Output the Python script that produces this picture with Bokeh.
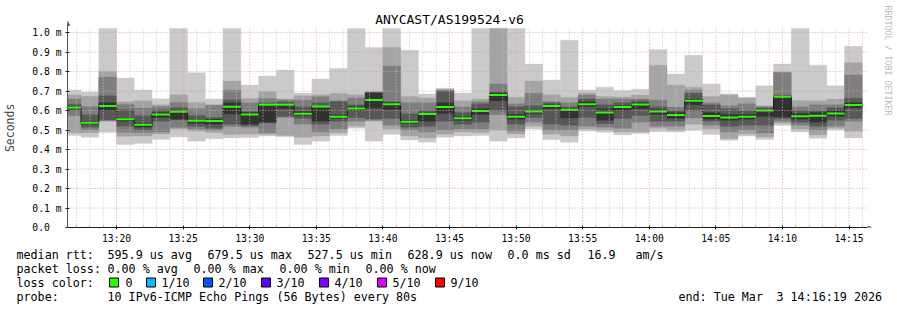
import math
from bokeh.plotting import figure
from bokeh.models import Range1d, FixedTicker, Label
from bokeh.layouts import column
from bokeh.embed import file_html
from bokeh.resources import INLINE

# ---------------- data ----------------
title_text = "ANYCAST/AS199524-v6"
window_start = "13:16:19"
window_end = "14:16:19"
step_seconds = 80
first_bar_end = "13:17:20"
n_bars = 45

# sorted ping round-trip times per 80 s step (milliseconds), ping1 = fastest ... ping10 = slowest
ping1 = [0.472, 0.463, 0.487, 0.426, 0.431, 0.452, 0.465, 0.443, 0.455, 0.460, 0.462, 0.469, 0.466, 0.426, 0.443,
         0.472, 0.510, 0.443, 0.477, 0.449, 0.438, 0.463, 0.470, 0.472, 0.443, 0.460, 0.505, 0.451, 0.438, 0.495,
         0.489, 0.475, 0.482, 0.492, 0.490, 0.499, 0.477, 0.448, 0.469, 0.452, 0.523, 0.490, 0.458, 0.500, 0.460]
ping2 = [0.486, 0.485, 0.545, 0.468, 0.469, 0.480, 0.505, 0.494, 0.488, 0.477, 0.480, 0.478, 0.472, 0.463, 0.470,
         0.486, 0.520, 0.545, 0.505, 0.470, 0.460, 0.478, 0.490, 0.488, 0.500, 0.480, 0.520, 0.478, 0.470, 0.505,
         0.500, 0.490, 0.490, 0.510, 0.500, 0.530, 0.505, 0.455, 0.480, 0.465, 0.535, 0.505, 0.475, 0.510, 0.494]
ping3 = [0.573, 0.500, 0.548, 0.489, 0.486, 0.490, 0.513, 0.505, 0.500, 0.519, 0.515, 0.486, 0.565, 0.530, 0.490,
         0.505, 0.545, 0.550, 0.525, 0.500, 0.490, 0.500, 0.505, 0.505, 0.579, 0.495, 0.540, 0.500, 0.500, 0.520,
         0.515, 0.510, 0.540, 0.520, 0.520, 0.562, 0.525, 0.490, 0.500, 0.485, 0.545, 0.525, 0.500, 0.520, 0.545]
ping4 = [0.600, 0.515, 0.552, 0.520, 0.500, 0.545, 0.553, 0.520, 0.510, 0.530, 0.522, 0.537, 0.570, 0.560, 0.530,
         0.545, 0.565, 0.557, 0.560, 0.515, 0.520, 0.545, 0.530, 0.540, 0.600, 0.530, 0.565, 0.530, 0.525, 0.565,
         0.533, 0.560, 0.575, 0.545, 0.545, 0.600, 0.545, 0.520, 0.525, 0.525, 0.560, 0.540, 0.520, 0.550, 0.560]
ping5 = [0.610, 0.530, 0.600, 0.545, 0.515, 0.565, 0.555, 0.535, 0.530, 0.582, 0.530, 0.540, 0.610, 0.575, 0.545,
         0.560, 0.600, 0.613, 0.605, 0.535, 0.545, 0.585, 0.550, 0.580, 0.650, 0.555, 0.585, 0.610, 0.562, 0.620,
         0.550, 0.600, 0.610, 0.580, 0.560, 0.630, 0.555, 0.550, 0.555, 0.570, 0.567, 0.555, 0.540, 0.570, 0.615]
ping6 = [0.622, 0.545, 0.640, 0.560, 0.535, 0.590, 0.600, 0.553, 0.555, 0.640, 0.590, 0.630, 0.630, 0.595, 0.620,
         0.578, 0.620, 0.690, 0.640, 0.550, 0.588, 0.640, 0.568, 0.610, 0.690, 0.580, 0.600, 0.630, 0.610, 0.645,
         0.610, 0.625, 0.640, 0.605, 0.590, 0.660, 0.590, 0.580, 0.580, 0.605, 0.672, 0.585, 0.590, 0.600, 0.640]
ping7 = [0.633, 0.579, 0.676, 0.605, 0.574, 0.604, 0.615, 0.575, 0.565, 0.655, 0.596, 0.640, 0.645, 0.620, 0.640,
         0.647, 0.630, 0.693, 0.645, 0.584, 0.600, 0.700, 0.590, 0.635, 0.698, 0.620, 0.625, 0.640, 0.620, 0.660,
         0.630, 0.640, 0.650, 0.620, 0.600, 0.689, 0.630, 0.610, 0.600, 0.615, 0.680, 0.600, 0.600, 0.615, 0.664]
ping8 = [0.660, 0.621, 0.772, 0.633, 0.613, 0.621, 0.642, 0.610, 0.628, 0.706, 0.640, 0.662, 0.655, 0.655, 0.671,
         0.650, 0.665, 0.695, 0.829, 0.640, 0.640, 0.705, 0.620, 0.645, 0.737, 0.635, 0.689, 0.645, 0.640, 0.680,
         0.660, 0.660, 0.660, 0.655, 0.618, 0.705, 0.640, 0.625, 0.635, 0.620, 0.795, 0.620, 0.630, 0.630, 0.783]
ping9 = [0.681, 0.674, 0.801, 0.645, 0.650, 0.630, 0.681, 0.642, 0.630, 0.752, 0.662, 0.698, 0.660, 0.676, 0.681,
         0.689, 0.681, 0.698, 0.924, 0.672, 0.665, 0.710, 0.650, 0.659, 1.050, 0.669, 0.752, 0.681, 0.667, 0.690,
         0.672, 0.670, 0.680, 0.833, 0.732, 0.720, 0.672, 0.680, 0.665, 0.625, 0.799, 0.652, 0.650, 0.659, 0.845]
ping10 = [0.706, 0.696, 1.050, 0.767, 0.706, 0.661, 1.050, 0.794, 0.660, 1.050, 0.732, 0.778, 0.808, 0.690, 0.762,
          0.816, 1.050, 0.924, 1.050, 0.910, 0.685, 0.715, 0.690, 1.050, 1.050, 1.050, 0.839, 0.757, 0.961, 0.706,
          0.720, 0.703, 0.710, 0.913, 0.788, 0.884, 0.737, 0.686, 0.669, 0.727, 0.839, 1.050, 0.833, 0.727, 0.930]
median_rtt = [0.616, 0.538, 0.624, 0.555, 0.5275, 0.580, 0.594, 0.548, 0.547, 0.620, 0.580, 0.630, 0.630, 0.584, 0.621,
              0.569, 0.611, 0.655, 0.633, 0.543, 0.582, 0.618, 0.561, 0.598, 0.6795, 0.568, 0.595, 0.624, 0.604, 0.632,
              0.590, 0.618, 0.631, 0.595, 0.577, 0.650, 0.572, 0.565, 0.568, 0.601, 0.671, 0.571, 0.573, 0.585, 0.629]

x_tick_labels = ["13:20", "13:25", "13:30", "13:35", "13:40", "13:45", "13:50", "13:55", "14:00", "14:05", "14:10", "14:15"]
y_tick_values = [0.0, 0.1, 0.2, 0.3, 0.4, 0.5, 0.6, 0.7, 0.8, 0.9, 1.0]
y_tick_labels = ["0.0\u00a0\u00a0", "0.1 m", "0.2 m", "0.3 m", "0.4 m", "0.5 m", "0.6 m", "0.7 m", "0.8 m", "0.9 m", "1.0 m"]
y_max = 1.022   # upper limit of the graph (values above are cut off)

loss_colors = ["#26ff00", "#00b8ff", "#0059ff", "#5e00ff", "#7e00ff", "#dd00ff", "#ff0000"]
loss_labels = ["0", "1/10", "2/10", "3/10", "4/10", "5/10", "9/10"]

smoke_shades = ["#cacaca", "#a4a4a4", "#7e7e7e", "#585858", "#323232"]

# ---------------- helpers ----------------
def to_min(s):
    h, m, sec = (int(v) for v in s.split(":"))
    return h * 60 + m + sec / 60.0

x0, x1 = to_min(window_start), to_min(window_end)
bar_end = [to_min(first_bar_end) + i * step_seconds / 60.0 for i in range(n_bars)]
bar_start = [e - step_seconds / 60.0 for e in bar_end]

FONT = "DejaVu Sans Mono"
W, H_TOP = 897, 246
GRAPH_L, GRAPH_W, GRAPH_T, GRAPH_H = 66, 800, 28, 200   # rrd graph area in page pixels
FRAME_L, FRAME_T, FRAME_B = GRAPH_L, 0, GRAPH_T + GRAPH_H
px_x = (x1 - x0) / GRAPH_W      # minutes per pixel
px_y = y_max / GRAPH_H          # ms per pixel

def page_x(px):                  # page pixel column -> data x
    return x0 + (px - GRAPH_L) * px_x

def page_y(py):                  # page pixel row -> data y
    return (FRAME_B - py) * px_y

p = figure(width=W, height=H_TOP,
           x_range=Range1d(x0, page_x(W)), y_range=Range1d(0, page_y(FRAME_T)),
           output_backend="svg", toolbar_location=None, title=None,
           min_border_left=FRAME_L, min_border_right=0, min_border_top=0, min_border_bottom=H_TOP - FRAME_B)
p.background_fill_color = "white"
p.border_fill_color = "white"
p.outline_line_color = None
p.grid.visible = False

# smoke (cut at the graph's upper limit like rrdtool does)
pings = [ping1, ping2, ping3, ping4, ping5, ping6, ping7, ping8, ping9, ping10]
for i in range(5):
    p.quad(left=bar_start, right=bar_end, bottom=pings[i], top=[min(v, y_max) for v in pings[9 - i]],
           fill_color=smoke_shades[i], line_color=smoke_shades[i], line_width=0.3)

# median line + loss-coloured median bar
p.step(x=bar_start + [bar_end[-1]], y=median_rtt + [median_rtt[-1]], mode="after",
       line_color="#202020", line_width=1)
sw = y_max / 200.0
p.quad(left=bar_start, right=bar_end, bottom=[m - sw for m in median_rtt], top=[m + sw for m in median_rtt],
       fill_color=loss_colors[0], line_color=None)

# grid (drawn over the data, limited to the graph area)
major_x = [to_min(t + ":00") for t in x_tick_labels]
minor_x = [m for m in range(int(math.ceil(x0)), int(x1) + 1) if m not in major_x]
p.segment(x0=minor_x, x1=minor_x, y0=[0] * len(minor_x), y1=[y_max] * len(minor_x),
          line_color="#c4c4c4", line_dash="1 2", line_width=1)
p.segment(x0=major_x, x1=major_x, y0=[0] * len(major_x), y1=[y_max] * len(major_x),
          line_color="#e49a9a", line_dash="1 2", line_width=1)
hy = y_tick_values[1:]
p.segment(x0=[x0] * len(hy), x1=[page_x(GRAPH_L + GRAPH_W + 2)] * len(hy), y0=hy, y1=hy,
          line_color="#e49a9a", line_dash="1 2", line_width=1)

# axes
p.xaxis.ticker = FixedTicker(ticks=major_x, minor_ticks=minor_x)
p.xaxis.major_label_overrides = {int(v): lab for v, lab in zip(major_x, x_tick_labels)}
p.xaxis.bounds = (x0, page_x(GRAPH_L + GRAPH_W + 1))
p.yaxis.ticker = FixedTicker(ticks=y_tick_values)
p.yaxis.major_label_overrides = {v: lab for v, lab in zip(y_tick_values, y_tick_labels)}
p.yaxis.bounds = (0, page_y(24))

for ax in (p.xaxis, p.yaxis):
    ax.major_label_text_font = FONT
    ax.major_label_text_font_size = "9.7px"
    ax.major_label_text_color = "black"
    ax.major_tick_in = 2
    ax.major_tick_out = 2
    ax.major_tick_line_color = "#1f1f1f"
p.xaxis.axis_line_color = "#1f1f1f"
p.yaxis.axis_line_color = "#555555"
p.xaxis.minor_tick_in = 2
p.xaxis.minor_tick_out = 0
p.xaxis.minor_tick_line_color = "#d08080"
p.xaxis.major_label_standoff = 3
p.yaxis.major_label_standoff = 4
p.yaxis.minor_tick_line_color = None
# the label is centred on the whole frame; trailing no-break spaces move the word down onto the graph's centre
p.yaxis.axis_label = "Seconds" + "\u00a0" * 4
p.yaxis.axis_label_text_font = FONT
p.yaxis.axis_label_text_font_size = "11.5px"
p.yaxis.axis_label_text_font_style = "normal"
p.yaxis.axis_label_standoff = 12

# title, arrow heads, watermark
p.add_layout(Label(x=page_x(448.5), y=page_y(19.5), text=title_text, text_align="center",
                   text_baseline="middle", text_font=FONT, text_font_size="13px", text_color="black"))
p.add_layout(Label(x=page_x(GRAPH_L + GRAPH_W + 4), y=0, text="\u25b6", text_align="center",
                   text_baseline="middle", text_font="DejaVu Sans", text_font_size="7px", text_color="#801f1f"))
p.add_layout(Label(x=x0, y=page_y(23), text="\u25b2", text_align="center", text_baseline="middle",
                   text_font="DejaVu Sans", text_font_size="7px", text_color="#801f1f"))
p.add_layout(Label(x=page_x(887.5), y=page_y(5), text="RRDTOOL / TOBI OETIKER",
                   angle=-math.pi / 2, text_align="left", text_baseline="middle",
                   text_font=FONT, text_font_size="8.3px", text_color="#bdbdbd"))

# ---------------- legend block (data units = page pixels) ----------------
q = figure(width=W, height=310 - H_TOP, x_range=Range1d(0, W), y_range=Range1d(310, H_TOP),
           output_backend="svg", toolbar_location=None, x_axis_location=None, y_axis_location=None,
           title=None, min_border=0)
q.grid.visible = False
q.outline_line_color = None
q.background_fill_color = "white"
q.border_fill_color = "white"
for fig in (p, q):
    try:
        fig.frame_align = False
    except AttributeError:
        pass

rows = [
    (254.3, [("median rtt:", 16), ("595.9 us avg", 107), ("679.5 us max", 207), ("527.5 us min", 307),
             ("628.9 us now", 407), ("0.0 ms sd", 507), ("16.9", 587), ("am/s", 635)]),
    (268.3, [("packet loss:", 16), ("0.00 % avg", 107), ("0.00 % max", 193), ("0.00 % min", 279),
             ("0.00 % now", 365)]),
    (282.3, [("loss color:", 16)] + list(zip(loss_labels, [125, 161, 218, 276, 334, 392, 450]))),
    (296.0, [("probe:", 16), ("10 IPv6-ICMP Echo Pings (56 Bytes) every 80s", 107),
             ("end: Tue Mar", 678), ("3 14:16:19 2026", 776)]),
]
for yy, segs in rows:
    for txt, xx in segs:
        q.add_layout(Label(x=xx, y=yy, text=txt, text_font=FONT, text_font_size="11.7px",
                           text_baseline="middle", text_align="left", text_color="black"))

box_left = [109, 146, 203, 261, 319, 377, 435]
q.quad(left=box_left, right=[b + 9 for b in box_left], top=[277.5] * 7, bottom=[286.5] * 7,
       fill_color=loss_colors, line_color="black", line_width=1)

layout = column(p, q, spacing=0)
open("out.html", "w").write(file_html(layout, INLINE))
